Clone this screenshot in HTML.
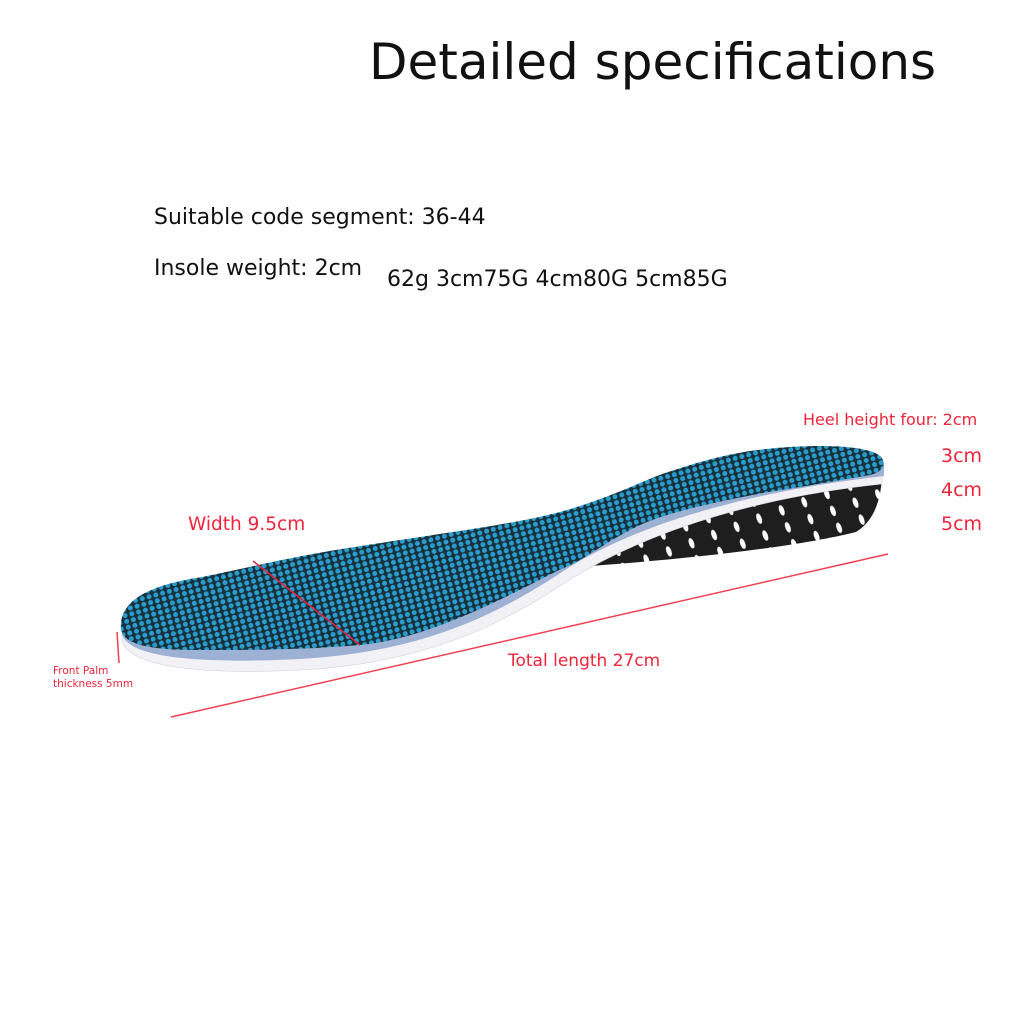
<!DOCTYPE html>
<html><head><style>
html,body{margin:0;padding:0;background:#fff;}
body{width:1024px;height:1024px;position:relative;overflow:hidden;font-family:"DejaVu Sans","Liberation Sans",sans-serif;}
.t{position:absolute;white-space:nowrap;}
.r{color:#f0243a;}
</style></head><body>
<div class="t" style="left:369px;top:33px;font-size:50px;color:#111;">Detailed specifications</div>
<div class="t" style="left:154px;top:205px;font-size:22px;color:#111;">Suitable code segment: 36-44</div>
<div class="t" style="left:154px;top:256px;font-size:22px;color:#111;">Insole weight: 2cm</div>
<div class="t" style="left:387px;top:267px;font-size:22px;color:#111;">62g 3cm75G 4cm80G 5cm85G</div>
<svg width="1024" height="1024" style="position:absolute;left:0;top:0">
<defs>
<pattern id="hex" width="7" height="6" patternUnits="userSpaceOnUse" patternTransform="rotate(-15)">
<rect width="7" height="6" fill="#16303c"/>
<circle cx="3.5" cy="3" r="2.5" fill="#2a9ccc"/>
</pattern>
<pattern id="dots" width="24" height="18" patternUnits="userSpaceOnUse" patternTransform="rotate(-20)">
<rect width="24" height="18" fill="#1e1e1e"/>
<ellipse cx="8" cy="9" rx="2.5" ry="5.5" fill="#fff"/>
</pattern>
</defs>
<!-- heel wedge -->
<path d="M570,564 C650,522 780,490 882,478 C880,505 872,522 856,532 C800,546 700,558 590,566 Z" fill="url(#dots)"/>
<!-- white bottom layer -->
<path d="M122,640 C128,667 200,675 300,670 C420,664 500,627 572,578 C660,525 770,496 882,484 L882,472 C770,485 650,512 565,565 C490,612 410,650 300,656 C200,662 130,655 122,630 Z" fill="#f2f1f5" stroke="#d0d0d8" stroke-width="0.6"/>
<!-- grey foam layer -->
<path d="M122,634 C128,658 200,664 300,659 C420,652 495,617 568,568 C650,517 770,489 884,476 L884,462 C770,476 650,500 560,556 C490,602 410,640 300,646 C200,650 130,645 122,622 Z" fill="#9db1d4"/>
<!-- top surface -->
<path d="M121,630 C118,600 150,585 202,577 C260,565 300,555 355,547 C450,532 510,525 560,512 C610,498 640,482 665,473 C710,458 740,450 790,447 C840,444 875,448 882,458 C886,466 882,472 870,475 C830,482 800,487 763,493 C700,505 660,515 636,527 C600,545 585,560 559,570 C500,600 430,638 360,645 C300,650 250,650 200,650 C150,650 125,645 121,630 Z" fill="url(#hex)"/>
<!-- red lines -->
<line x1="253" y1="561" x2="360" y2="645" stroke="#e8203a" stroke-width="1.5"/>
<line x1="171" y1="717" x2="888" y2="554" stroke="#f04050" stroke-width="1.5"/>
<line x1="117" y1="632" x2="119" y2="663" stroke="#f04050" stroke-width="1.5"/>
</svg>
<div class="t r" style="left:188px;top:514px;font-size:18.5px;">Width 9.5cm</div>
<div class="t r" style="left:508px;top:651px;font-size:17px;">Total length 27cm</div>
<div class="t r" style="left:53px;top:665px;font-size:10.5px;line-height:13px;">Front Palm<br>thickness 5mm</div>
<div class="t r" style="left:803px;top:410px;font-size:16px;">Heel height four: 2cm</div>
<div class="t r" style="left:941px;top:445px;font-size:19px;">3cm</div>
<div class="t r" style="left:941px;top:479px;font-size:19px;">4cm</div>
<div class="t r" style="left:941px;top:513px;font-size:19px;">5cm</div>
</body></html>
